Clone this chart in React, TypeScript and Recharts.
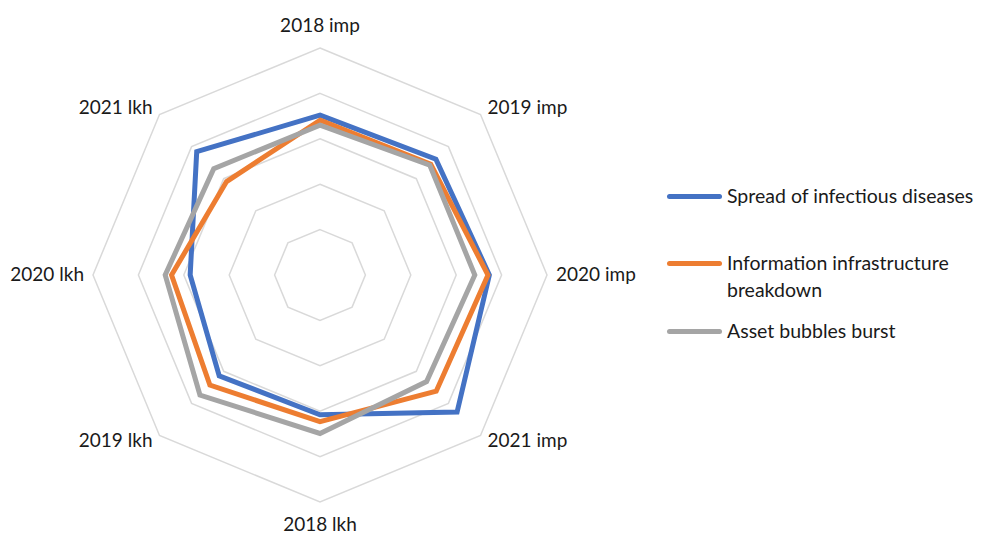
import React from "react";
import {
  RadarChart,
  Radar,
  PolarGrid,
  PolarAngleAxis,
  PolarRadiusAxis,
  Legend,
} from "recharts";

// WEF global risk scores (1-5 scale), impact and likelihood per report year
const CATEGORIES = [
  "2018 imp",
  "2019 imp",
  "2020 imp",
  "2021 imp",
  "2018 lkh",
  "2019 lkh",
  "2020 lkh",
  "2021 lkh",
];
const INFECTIOUS_DISEASES = [3.52, 3.61, 3.73, 4.27, 3.08, 3.14, 2.86, 3.84];
const INFO_INFRASTRUCTURE = [3.41, 3.45, 3.7, 3.62, 3.23, 3.43, 3.27, 2.91];
const ASSET_BUBBLES = [3.3, 3.42, 3.41, 3.32, 3.49, 3.74, 3.41, 3.31];

const SERIES = [
  { key: "infectious", name: "Spread of infectious diseases", color: "#4472C4", values: INFECTIOUS_DISEASES },
  { key: "infra", name: "Information infrastructure breakdown", color: "#ED7D31", values: INFO_INFRASTRUCTURE },
  { key: "bubbles", name: "Asset bubbles burst", color: "#A5A5A5", values: ASSET_BUBBLES },
];

const data = CATEGORIES.map((cat, i) => {
  const row: Record<string, string | number> = { category: cat };
  SERIES.forEach((s) => {
    row[s.key] = s.values[i];
  });
  return row;
});

const FONT = "Lato, 'Open Sans', sans-serif";
const WIDTH = 981;
const HEIGHT = 536;
const CX = 320;
const CY = 275;
const RADIUS = 227;

// category labels sit just outside the outer ring, pushed out along their angle
function AngleTick(props: any) {
  const { payload } = props;
  const rad = (payload.coordinate * Math.PI) / 180;
  const ux = Math.cos(rad);
  const uy = -Math.sin(rad);
  const vx = CX + RADIUS * ux;
  const vy = CY + RADIUS * uy;
  let anchor = "middle";
  let tx = vx;
  let ty: number;
  if (Math.abs(ux) < 0.01) {
    ty = vy + uy * 22.75 - 1.25;
  } else {
    anchor = ux > 0 ? "start" : "end";
    tx = vx + (ux > 0 ? 1 : -1) * (Math.abs(uy) < 0.01 ? 9 : 7);
    ty = vy + uy * 8 - 2;
  }
  return (
    <text
      x={tx}
      y={ty}
      textAnchor={anchor}
      dominantBaseline="central"
      fill="#1a1a1a"
      fontSize={19}
      fontFamily={FONT}
    >
      {payload.value}
    </text>
  );
}

function SeriesLegend() {
  return (
    <div style={{ fontFamily: FONT, fontSize: 19.5, color: "#1a1a1a" }}>
      {SERIES.map((s, i) => (
        <div
          key={s.key}
          style={{
            position: "absolute",
            left: 0,
            top: [0, 67, 135][i],
            display: "flex",
            alignItems: "flex-start",
          }}
        >
          <span
            style={{
              display: "inline-block",
              width: 55,
              height: 5,
              borderRadius: 3,
              background: s.color,
              marginTop: 12,
              marginRight: 5,
              flexShrink: 0,
            }}
          />
          <span style={{ width: 252, lineHeight: "27px" }}>{s.name}</span>
        </div>
      ))}
    </div>
  );
}

export default function App() {
  return (
    <div style={{ position: "fixed", left: 0, top: 0, width: WIDTH, height: HEIGHT, background: "#fff" }}>
      <RadarChart
        width={WIDTH}
        height={HEIGHT}
        data={data}
        cx={CX}
        cy={CY}
        outerRadius={RADIUS}
        margin={{ top: 0, right: 0, bottom: 0, left: 0 }}
      >
        <PolarGrid gridType="polygon" radialLines={false} stroke="#D9D9D9" strokeWidth={1.5} />
        <PolarAngleAxis dataKey="category" tick={<AngleTick />} tickLine={false} axisLine={false} />
        <PolarRadiusAxis domain={[0, 5]} tickCount={6} tick={false} axisLine={false} />
        {SERIES.map((s) => (
          <Radar
            key={s.key}
            dataKey={s.key}
            name={s.name}
            stroke={s.color}
            strokeWidth={5}
            fill="none"
            fillOpacity={0}
            dot={false}
            legendType="line"
            isAnimationActive={false}
          />
        ))}
        <Legend
          content={<SeriesLegend />}
          wrapperStyle={{ position: "absolute", left: 667, top: 182, width: 310, height: 180 }}
        />
      </RadarChart>
    </div>
  );
}
